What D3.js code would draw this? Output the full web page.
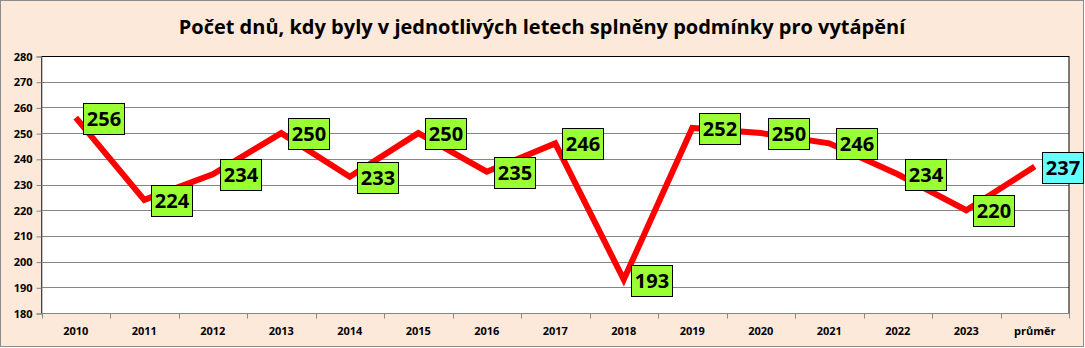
<!DOCTYPE html>
<html>
<head>
<meta charset="utf-8">
<script src="https://cdn.jsdelivr.net/npm/d3@7"></script>
<style>
  html, body { margin: 0; padding: 0; background: #fff; }
  svg { display: block; }
  text { font-family: "Open Sans", "Noto Sans", sans-serif; }
</style>
</head>
<body>
<svg id="chart" width="1085" height="348"></svg>
<script>
// Heating-season days per year, plus the long-term average
const categories = ["2010","2011","2012","2013","2014","2015","2016","2017","2018","2019","2020","2021","2022","2023","průměr"];
const days = [256, 224, 234, 250, 233, 250, 235, 246, 193, 252, 250, 246, 234, 220, 237];
const yTicks = [180, 190, 200, 210, 220, 230, 240, 250, 260, 270, 280];
const title = "Počet dnů, kdy byly v jednotlivých letech splněny podmínky pro vytápění";

const W = 1085, H = 348;
const plot = { left: 41.5, right: 1069, top: 56, bottom: 313 };

const svg = d3.select("#chart");

// chart background and frame
svg.append("rect")
  .attr("x", 0.5).attr("y", 0.5)
  .attr("width", 1083).attr("height", 346)
  .attr("fill", "#fde9d9")
  .attr("stroke", "#8c8c8c").attr("stroke-width", 1);

svg.append("text")
  .attr("x", 542).attr("y", 34)
  .attr("text-anchor", "middle")
  .attr("font-size", 20).attr("font-weight", "bold")
  .attr("fill", "#000")
  .text(title);

const x = d3.scaleBand().domain(categories).range([plot.left, plot.right]);
const y = d3.scaleLinear().domain([180, 280]).range([plot.bottom, plot.top]);

// plot area
svg.append("rect")
  .attr("x", plot.left).attr("y", plot.top)
  .attr("width", plot.right - plot.left).attr("height", plot.bottom - plot.top)
  .attr("fill", "#fff");

// horizontal gridlines
svg.append("g")
  .selectAll("line")
  .data(yTicks)
  .join("line")
  .attr("x1", plot.left).attr("x2", plot.right)
  .attr("y1", d => Math.round(y(d)) + 0.5).attr("y2", d => Math.round(y(d)) + 0.5)
  .attr("stroke", "#868686").attr("stroke-width", 1);

// plot border
svg.append("rect")
  .attr("x", plot.left).attr("y", plot.top + 0.5)
  .attr("width", plot.right - plot.left).attr("height", plot.bottom - plot.top)
  .attr("fill", "none")
  .attr("stroke", "#000").attr("stroke-width", 1);

// y axis
const yAxis = d3.axisLeft(y).tickValues(yTicks).tickSize(5).tickPadding(4);
const gy = svg.append("g")
  .attr("transform", `translate(${plot.left},0.5)`)
  .call(yAxis);
gy.select(".domain").attr("stroke", "#868686");
gy.selectAll(".tick line").attr("stroke", "#868686");
gy.selectAll(".tick text")
  .attr("font-family", "'Open Sans', sans-serif")
  .attr("font-size", 11).attr("font-weight", "bold").attr("fill", "#000");

// x axis: ticks at category boundaries, labels centred in each band
const gx = svg.append("g")
  .attr("transform", `translate(0,${plot.bottom + 0.5})`);
gx.append("line")
  .attr("x1", plot.left).attr("x2", plot.right)
  .attr("stroke", "#868686");
const bounds = categories.map(c => x(c)).concat([plot.right]);
gx.selectAll("line.tk")
  .data(bounds)
  .join("line")
  .attr("class", "tk")
  .attr("x1", d => Math.round(d) + 0.5).attr("x2", d => Math.round(d) + 0.5)
  .attr("y1", 0).attr("y2", 5)
  .attr("stroke", "#868686");
gx.selectAll("text")
  .data(categories)
  .join("text")
  .attr("x", d => x(d) + x.bandwidth() / 2)
  .attr("y", 21)
  .attr("text-anchor", "middle")
  .attr("font-size", 11).attr("font-weight", "bold")
  .attr("fill", "#000")
  .text(d => d);

// data line
const cx = (d, i) => x(categories[i]) + x.bandwidth() / 2;
const line = d3.line()
  .x((d, i) => cx(d, i))
  .y(d => y(d));
svg.append("path")
  .datum(days)
  .attr("d", line)
  .attr("fill", "none")
  .attr("stroke", "#ff0000")
  .attr("stroke-width", 6)
  .attr("stroke-linejoin", "miter");

// value labels to the right of each point
const labels = svg.append("g")
  .selectAll("g")
  .data(days)
  .join("g")
  .attr("transform", (d, i) => `translate(${Math.round(cx(d, i)) + 7},${Math.round(y(d)) + 1})`);
labels.append("rect")
  .attr("x", 0.5).attr("y", -15.5)
  .attr("width", 41).attr("height", 31)
  .attr("fill", (d, i) => i === days.length - 1 ? "#66ffff" : "#99ff33")
  .attr("stroke", "#000").attr("stroke-width", 1);
labels.append("text")
  .attr("x", 21).attr("y", 0)
  .attr("dy", "0.35em")
  .attr("text-anchor", "middle")
  .attr("font-size", 20).attr("font-weight", "bold")
  .attr("fill", "#000")
  .text(d => d);
</script>
</body>
</html>
